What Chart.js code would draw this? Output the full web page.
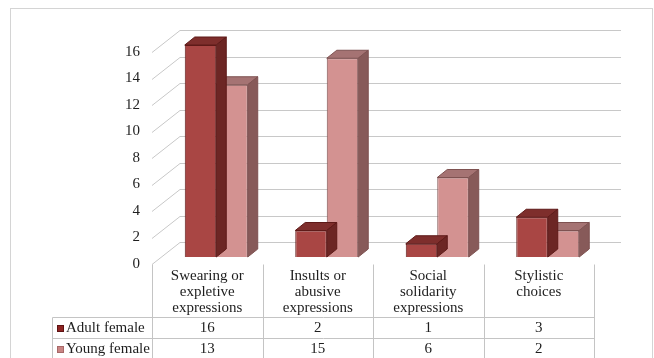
<!DOCTYPE html>
<html>
<head>
<meta charset="utf-8">
<script src="https://cdn.jsdelivr.net/npm/chart.js@4.4.0/dist/chart.umd.min.js"></script>
<style>
  html, body { margin: 0; padding: 0; background: #fff; }
  #wrap { width: 654px; height: 358px; }
</style>
</head>
<body>
<div id="wrap"><canvas id="c" width="654" height="358"></canvas></div>
<script>
var categories = [
  ['Swearing or', 'expletive', 'expressions'],
  ['Insults or', 'abusive', 'expressions'],
  ['Social', 'solidarity', 'expressions'],
  ['Stylistic', 'choices']
];
var seriesNames = ['Adult female', 'Young female'];
var adultFemale = [16, 2, 1, 3];
var youngFemale = [13, 15, 6, 2];
var yTicks = [0, 2, 4, 6, 8, 10, 12, 14, 16];

var FONT = '"Liberation Serif", "DejaVu Serif", serif';
var TEXT = '#1e1e1e';
var GRID = '#c8c8c8';
// front plane sits left/below the bars, back wall sits right/above them
var FRONT = { x: -9, y: 7 };
var BACK = { x: 19, y: -15 };
var BAR_D = { x: 10, y: -8 };

var faces = [
  { front: '#a94644', top: '#7e2e2c', side: '#6c2624', line: '#5e1a18', key: '#8e2422' },
  { front: '#d39291', top: '#a57373', side: '#875a59', line: '#7e5251', key: '#c98584' }
];

var backWall = {
  id: 'backWall',
  beforeDatasetsDraw: function (chart) {
    var ctx = chart.ctx, x = chart.scales.x, y = chart.scales.y;
    ctx.save();
    ctx.strokeStyle = GRID;
    ctx.lineWidth = 1;
    yTicks.forEach(function (v) {
      var py = Math.round(y.getPixelForValue(v)) + 0.5;
      ctx.beginPath();
      ctx.moveTo(x.left + FRONT.x, py + FRONT.y);
      ctx.lineTo(x.left + BACK.x, py + BACK.y);
      ctx.lineTo(x.right + BACK.x - 1, py + BACK.y);
      ctx.stroke();
    });
    ctx.restore();
  },
  afterDatasetDraw: function (chart, args) {
    var ctx = chart.ctx, f = faces[args.index];
    ctx.save();
    ctx.lineWidth = 1;
    ctx.strokeStyle = f.line;
    args.meta.data.forEach(function (bar) {
      var l = bar.x - bar.width / 2, r = bar.x + bar.width / 2, t = bar.y, b = bar.base;
      ctx.fillStyle = f.top;
      ctx.beginPath();
      ctx.moveTo(l, t); ctx.lineTo(l + BAR_D.x, t + BAR_D.y);
      ctx.lineTo(r + BAR_D.x, t + BAR_D.y); ctx.lineTo(r, t); ctx.closePath();
      ctx.fill(); ctx.stroke();
      ctx.fillStyle = f.side;
      ctx.beginPath();
      ctx.moveTo(r, t); ctx.lineTo(r + BAR_D.x, t + BAR_D.y);
      ctx.lineTo(r + BAR_D.x, b + BAR_D.y); ctx.lineTo(r, b); ctx.closePath();
      ctx.fill(); ctx.stroke();
    });
    ctx.restore();
  },
  afterDraw: function (chart) {
    var ctx = chart.ctx, x = chart.scales.x, y = chart.scales.y;
    var n = categories.length, cw = (x.right - x.left) / n;
    var top = Math.round(y.getPixelForValue(0) + FRONT.y) + 0.5;
    var row1 = Math.round(chart.chartArea.bottom + 60) + 0.5, rh = 21;
    var tableLeft = 52.5, bottom = chart.height + 2;
    ctx.save();
    // outer frame
    ctx.strokeStyle = '#d4d4d4';
    ctx.strokeRect(10.5, 8.5, 642, 360);
    ctx.strokeStyle = '#c4c4c4';
    ctx.lineWidth = 1;
    ctx.beginPath();
    for (var i = 0; i <= n; i++) {
      var cx = Math.round(x.left + i * cw + FRONT.x) + 0.5;
      ctx.moveTo(cx, top); ctx.lineTo(cx, bottom);
    }
    var right = Math.round(x.right + FRONT.x) + 0.5;
    ctx.moveTo(tableLeft, row1); ctx.lineTo(right, row1);
    ctx.moveTo(tableLeft, row1 + rh); ctx.lineTo(right, row1 + rh);
    ctx.moveTo(tableLeft, row1); ctx.lineTo(tableLeft, bottom);
    ctx.stroke();

    ctx.font = '15px ' + FONT;
    ctx.fillStyle = TEXT;
    ctx.textBaseline = 'middle';
    [adultFemale, youngFemale].forEach(function (vals, s) {
      var ry = row1 + rh * s + rh / 2 + 0.5;
      ctx.fillStyle = faces[s].key;
      ctx.fillRect(57, Math.round(ry - 4), 7, 7);
      ctx.strokeStyle = s === 0 ? '#5e1212' : '#a86868';
      ctx.strokeRect(57.5, Math.round(ry - 4) + 0.5, 6, 6);
      ctx.fillStyle = TEXT;
      ctx.textAlign = 'left';
      ctx.fillText(seriesNames[s], 66, ry);
      ctx.textAlign = 'center';
      vals.forEach(function (v, i) {
        ctx.fillText(String(v), x.getPixelForValue(i) + FRONT.x, ry);
      });
    });
    ctx.restore();
  }
};

new Chart(document.getElementById('c'), {
  type: 'bar',
  data: {
    labels: categories,
    datasets: [
      { label: seriesNames[0], data: adultFemale, backgroundColor: faces[0].front, borderColor: faces[0].line, borderWidth: 1 },
      { label: seriesNames[1], data: youngFemale, backgroundColor: faces[1].front, borderColor: faces[1].line, borderWidth: 1 }
    ]
  },
  options: {
    responsive: false,
    animation: false,
    layout: { padding: { top: 45, left: 100, right: 51, bottom: 41 } },
    datasets: { bar: { barPercentage: 1, categoryPercentage: 0.57 } },
    plugins: { legend: { display: false }, tooltip: { enabled: false } },
    scales: {
      x: {
        grid: { display: false, drawTicks: false },
        border: { display: false },
        ticks: { font: { family: FONT, size: 15, lineHeight: 16 / 15 }, color: TEXT, padding: 11, labelOffset: FRONT.x, maxRotation: 0, autoSkip: false },
        afterFit: function (s) { s.height = 60; }
      },
      y: {
        min: 0, max: 16,
        afterBuildTicks: function (s) { s.ticks = yTicks.map(function (v) { return { value: v }; }); },
        grid: { display: false, drawTicks: false },
        border: { display: false },
        ticks: { font: { family: FONT, size: 15 }, color: TEXT, padding: 21, labelOffset: FRONT.y },
        afterFit: function (s) { s.width = 61; }
      }
    }
  },
  plugins: [backWall]
});
</script>
</body>
</html>
